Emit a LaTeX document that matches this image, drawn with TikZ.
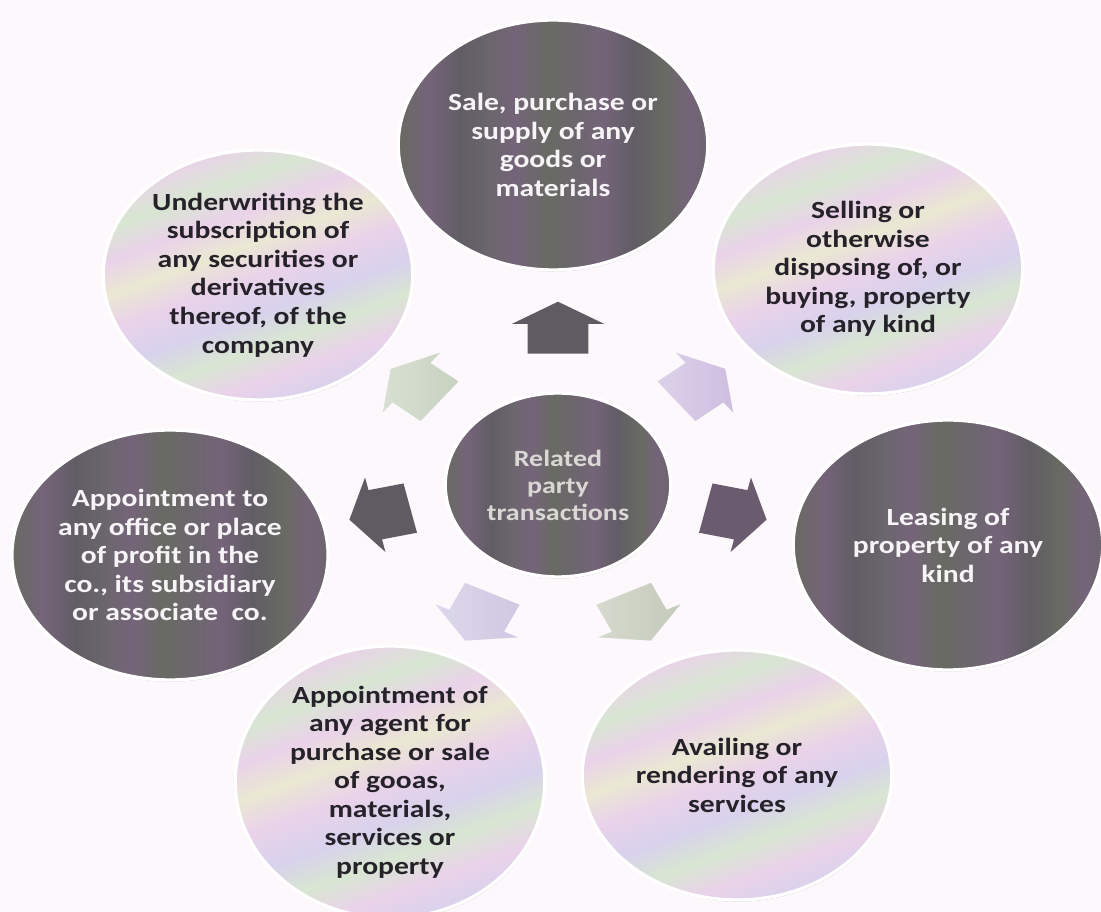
\documentclass[tikz,border=0pt]{standalone}
\usepackage{fontspec}
\setmainfont{Carlito}
\usepackage{tikz}
\usetikzlibrary{shapes.geometric,shapes.arrows,shadows}

\definecolor{paper}{RGB}{252,248,251}
\definecolor{dkBase}{RGB}{108,102,110}
\definecolor{dkPlum}{RGB}{117,100,121}
\definecolor{dkMoss}{RGB}{104,106,99}
\definecolor{dkDeep}{RGB}{97,93,101}
\definecolor{pPink}{RGB}{234,210,234}
\definecolor{pLilac}{RGB}{216,210,236}
\definecolor{pMint}{RGB}{216,230,210}
\definecolor{pCream}{RGB}{234,232,210}
\definecolor{inkDark}{RGB}{38,34,42}
\definecolor{inkLight}{RGB}{246,244,246}
\definecolor{inkHub}{RGB}{218,216,212}
\definecolor{arLilac}{RGB}{206,190,224}
\definecolor{arSage}{RGB}{196,202,186}
\definecolor{arMist}{RGB}{206,200,226}
\definecolor{arMoss}{RGB}{200,210,192}
\definecolor{arSlate}{RGB}{96,90,98}
\definecolor{arPlum}{RGB}{106,92,110}

% faint vertical streaks for the dark discs
\pgfdeclarehorizontalshading{streaks}{100bp}{color(0bp)=(dkBase); color(25bp)=(dkMoss); color(30bp)=(dkPlum); color(35bp)=(dkDeep); color(40bp)=(dkBase); color(44bp)=(dkPlum); color(49bp)=(dkMoss); color(54bp)=(dkBase); color(58bp)=(dkPlum); color(63bp)=(dkDeep); color(68bp)=(dkMoss); color(72bp)=(dkPlum); color(75bp)=(dkBase); color(100bp)=(dkBase)}
% pastel bands for the light discs
\pgfdeclareverticalshading{pearl}{100bp}{color(0bp)=(pLilac); color(25bp)=(pLilac); color(31bp)=(pPink); color(37bp)=(pMint); color(43bp)=(pLilac); color(50bp)=(pPink); color(56bp)=(pCream); color(62bp)=(pPink); color(68bp)=(pMint); color(75bp)=(pPink); color(100bp)=(pPink)}

\begin{document}
\begin{tikzpicture}[x=0.75pt,y=0.75pt,yscale=-1,xscale=1,
  bubble/.style={ellipse, xscale=1.2, draw=white, line width=2.5pt, inner sep=0pt, align=center,
    minimum width=193.5pt, minimum height=187.5pt,
    drop shadow={shadow xshift=0.5pt, shadow yshift=-1.2pt, opacity=0.4, fill=black!65},
    font=\fontsize{18.5}{21.4}\selectfont\bfseries},
  dkbubble/.style={bubble, shading=streaks, text=inkLight},
  ltbubble/.style={bubble, shading=pearl, shading angle=20, text=inkDark},
  hub/.style={dkbubble, minimum width=141pt, minimum height=138pt,
    text=inkHub, font=\fontsize{17.5}{20.3}\selectfont\bfseries},
  chevron/.style={single arrow, transform shape, draw=none, inner xsep=0pt, inner ysep=18.75pt,
    minimum height=39pt, single arrow head extend=9.75pt, single arrow tip angle=120},
  dkchevron/.style={chevron, fill=#1},
  ltchevron/.style={chevron, shading=axis, left color=#1!70!white, right color=#1}
  ]
\useasboundingbox (0,0) rectangle (1101,912);
\fill [paper] (0,0) rectangle (1101,912);

%Shape: Ellipse
\node [dkbubble] (sale) at (553,145) {Sale, purchase or\\supply of any\\goods or\\materials};
%Shape: Ellipse
\node [ltbubble] (selling) at (868,269) {Selling or\\otherwise\\disposing of, or\\buying, property\\of any kind};
%Shape: Ellipse
\node [dkbubble] (leasing) at (948,545) {Leasing of\\property of any\\kind};
%Shape: Ellipse
\node [ltbubble] (services) at (737,775) {Availing or\\rendering of any\\services};
%Shape: Ellipse
\node [ltbubble] (agent) at (390,782) {Appointment of\\any agent for\\purchase or sale\\of gooas,\\materials,\\services or\\property};
%Shape: Ellipse
\node [dkbubble] (office) at (170,555) {Appointment to\\any office or place\\of profit in the\\co., its subsidiary\\or associate~ co.};
%Shape: Ellipse
\node [ltbubble] (underwriting) at (258,275) {Underwriting the\\subscription of\\any securities or\\derivatives\\thereof, of the\\company};

%Shape: Ellipse
\node [hub] (rpt) at (558,485) {Related\\party\\transactions};

% block arrows round the hub
\begin{scope}[shift={(558,480)},xscale=1.2]
\node [dkchevron=arSlate, rotate=-90] (toSale) at (-90:145) {};
\node [ltchevron=arLilac, rotate=-38.57] (toSelling) at (-38.57:145) {};
\node [dkchevron=arPlum, rotate=12.86] (toLeasing) at (12.86:145) {};
\node [ltchevron=arSage, rotate=64.29] (toServices) at (64.29:145) {};
\node [ltchevron=arMist, rotate=115.71] (toAgent) at (115.71:145) {};
\node [dkchevron=arSlate, rotate=167.14] (toOffice) at (167.14:145) {};
\node [ltchevron=arMoss, rotate=-141.43] (toUnderwriting) at (-141.43:145) {};
\end{scope}

\end{tikzpicture}
\end{document}
